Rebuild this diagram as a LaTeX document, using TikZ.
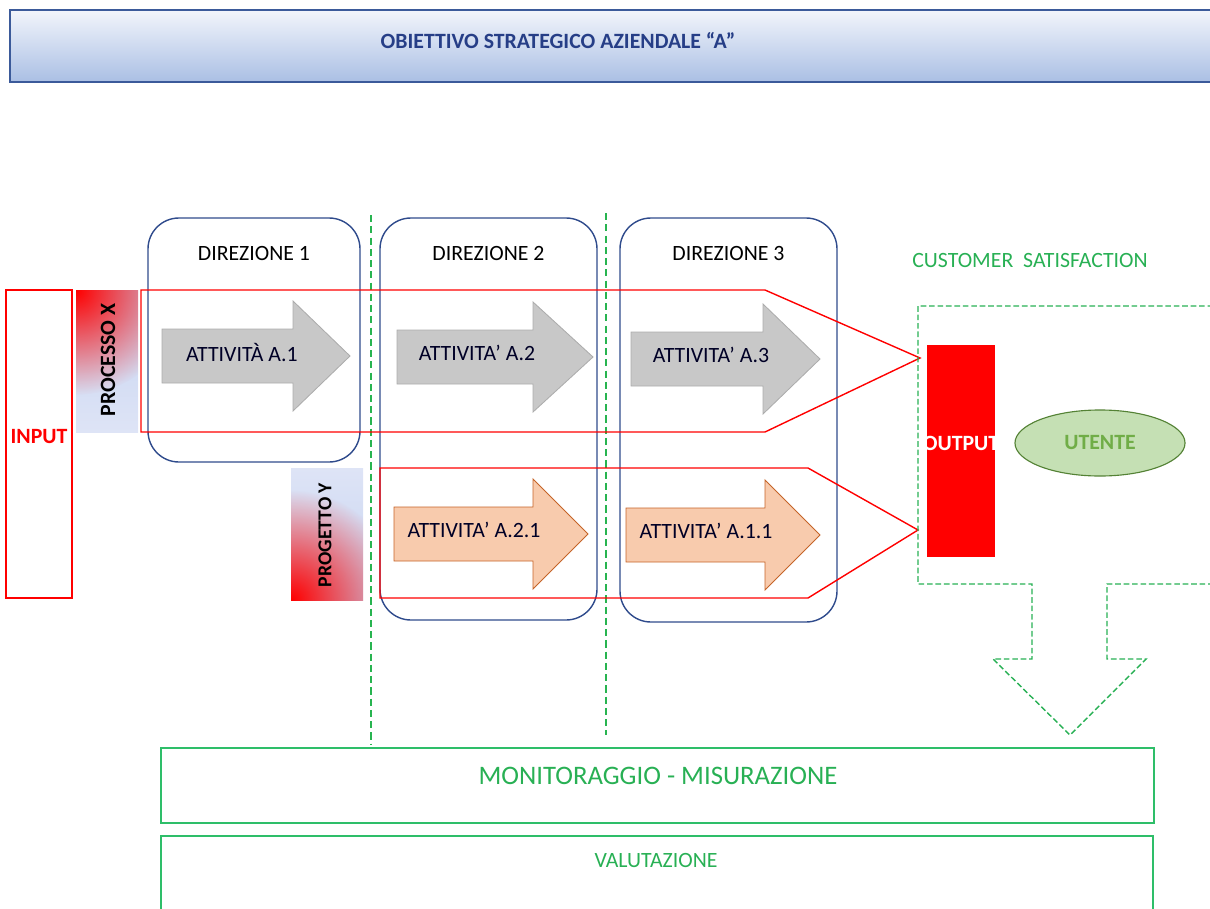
\documentclass[tikz,border=0pt]{standalone}
\usepackage{fontspec}
\setmainfont{Carlito}
\usepackage{tikz}
\usetikzlibrary{positioning, shapes.geometric, calc, fadings}
\definecolor{titleblue}{RGB}{59,90,154}
\definecolor{titletext}{RGB}{38,62,135}
\definecolor{titletop}{RGB}{242,245,251}
\definecolor{titlebot}{RGB}{170,191,228}
\definecolor{dirblue}{RGB}{47,75,140}
\definecolor{arrgrey}{RGB}{200,200,200}
\definecolor{arrgreyline}{RGB}{172,172,172}
\definecolor{arrorange}{RGB}{248,203,173}
\definecolor{arrorangeline}{RGB}{197,100,40}
\definecolor{procblue}{RGB}{196,210,240}
\definecolor{proclight}{RGB}{222,228,246}
\definecolor{sepgreen}{RGB}{40,180,80}
\definecolor{custgreen}{RGB}{40,176,84}
\definecolor{boxgreen}{RGB}{46,190,105}
\definecolor{utentefill}{RGB}{197,224,180}
\definecolor{utenteline}{RGB}{84,130,53}
\definecolor{utentetext}{RGB}{112,173,71}
\tikzfading[name=redglow, inner color=transparent!0, outer color=transparent!100]

% arrow: style, name, x start, x head, x tip, y centre, text
\newcommand{\actarrow}[7]{%
\draw[#1] (#3,#6-27) -- (#4,#6-27) -- (#4,#6-55) -- (#5,#6) -- (#4,#6+55) -- (#4,#6+27) -- (#3,#6+27) -- cycle;
\node[acttext] (#2) at (#3+80,#6-4) {#7};
}

\begin{document}
\begin{tikzpicture}[x=0.025cm, y=-0.025cm, line join=miter,
  every node/.style={font=\fontsize{15.5}{18}\selectfont, inner sep=0pt},
  dirbox/.style={draw=dirblue, line width=1pt, rounded corners=22pt},
  redline/.style={draw=red, line width=1pt},
  greyarrow/.style={fill=arrgrey, draw=arrgreyline, line width=0.6pt},
  orangearrow/.style={fill=arrorange, draw=arrorangeline, line width=0.6pt},
  acttext/.style={text=black!85!blue},
  sepdash/.style={draw=sepgreen, dash pattern=on 5pt off 3pt, line width=0.9pt},
  custdash/.style={draw=custgreen, dash pattern=on 4pt off 2pt, line width=1pt},
  greenbox/.style={draw=boxgreen, line width=1.3pt},
  boldtext/.style={font=\fontsize{15.5}{18}\selectfont\bfseries}]
\useasboundingbox (0,0) rectangle (1210,908);

% obiettivo
\draw[draw=titleblue, line width=1pt, top color=titletop, bottom color=titlebot] (10,10) rectangle (1230,82);
\node[boldtext, text=titletext] (title) at (558,41) {OBIETTIVO STRATEGICO AZIENDALE “A”};

% separatori
\draw[sepdash] (371,215) -- (371,745);
\draw[sepdash] (606,213) -- (606,735);

% direzioni
\foreach \n/\xa/\xb/\yb in {1/148/360/462, 2/380/597/620, 3/620/837/622} {
  \draw[dirbox] (\xa,218) rectangle (\xb,\yb);
  \node (dir\n) at ({(\xa+\xb)/2},253) {DIREZIONE \n};
}

% input
\draw[redline] (6,290) rectangle (72,598);
\node[boldtext, text=red] (input) at (39,437) {INPUT};

% processo X
\begin{scope}
\clip (76,290) rectangle (138,432);
\fill[top color=procblue, bottom color=proclight] (76,290) rectangle (138,432);
\fill[red, path fading=redglow] (76,290) circle (105);
\end{scope}
\node[boldtext, rotate=90] (procx) at (108,360) {PROCESSO X};

% progetto Y
\begin{scope}
\clip (291,468) rectangle (363,600);
\fill[top color=proclight, bottom color=procblue] (291,468) rectangle (363,600);
\fill[red, path fading=redglow] (291,600) circle (110);
\end{scope}
\node[font=\fontsize{14}{16}\selectfont\bfseries, rotate=90] (progy) at (325,535) {PROGETTO Y};

% attivita
\actarrow{greyarrow}{a1}{162}{293}{350}{356}{ATTIVITÀ A.1}
\actarrow{greyarrow}{a2}{397}{533}{593}{357}{ATTIVITA’ A.2}
\actarrow{greyarrow}{a3}{631}{763}{820}{359}{ATTIVITA’ A.3}
\actarrow{orangearrow}{a21}{394}{533}{588}{534}{ATTIVITA’ A.2.1}
\actarrow{orangearrow}{a11}{626}{765}{820}{535}{ATTIVITA’ A.1.1}

% flussi
\draw[redline] (141,290) -- (765,290) -- (920,358) -- (765,432) -- (141,432) -- cycle;
\draw[redline] (380,468) -- (808,468) -- (918,530) -- (808,598) -- (380,598) -- cycle;

% customer satisfaction
\node[text=custgreen] (cust) at (1030,261) {CUSTOMER\ \ SATISFACTION};
\draw[custdash] (1230,306) -- (918,306) -- (918,584) -- (1032,584) -- (1032,659) -- (993,659)
  -- (1070,735) -- (1146,659) -- (1107,659) -- (1107,584) -- (1230,584);
\fill[red] (927,345) rectangle (995,557);
\node[boldtext, text=white] (output) at (961,443) {OUTPUT};
\node[ellipse, draw=utenteline, fill=utentefill, line width=0.8pt, minimum width=4.25cm,
  minimum height=1.65cm, boldtext, text=utentetext] (utente) at (1100,443) {UTENTE};

% monitoraggio e valutazione
\draw[greenbox] (161,748) rectangle (1154,823);
\node[font=\fontsize{19}{22}\selectfont, text=custgreen] (monit) at (658,776) {MONITORAGGIO - MISURAZIONE};
\draw[greenbox] (161,836) rectangle (1153,940);
\node[text=custgreen] (valut) at (656,860) {VALUTAZIONE};
\end{tikzpicture}
\end{document}
